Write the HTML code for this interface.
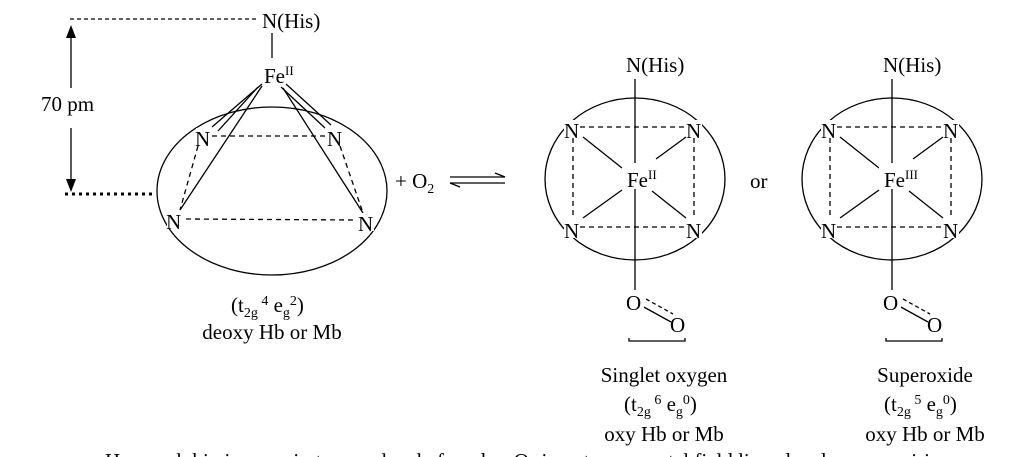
<!DOCTYPE html>
<html><head><meta charset="utf-8"><style>
html,body{margin:0;padding:0;background:#fff;}
svg{display:block;}
text{font-family:"Liberation Serif",serif;fill:#000;}
</style></head><body>
<svg width="1024" height="457" viewBox="0 0 1024 457" xmlns="http://www.w3.org/2000/svg">
<g stroke="#000" stroke-width="1.3" fill="none">
<!-- left complex -->
<line x1="70" y1="19" x2="258" y2="19" stroke-dasharray="4,3"/>
<line x1="71" y1="32" x2="71" y2="88"/>
<line x1="71" y1="128" x2="71" y2="186"/>
<line x1="65" y1="194" x2="152" y2="194" stroke-width="3" stroke-dasharray="3,4"/>
<line x1="272" y1="33" x2="272" y2="58"/>
<ellipse cx="272" cy="191" rx="115" ry="84"/>
<line x1="262" y1="84" x2="212" y2="127"/>
<line x1="258" y1="87" x2="218" y2="131"/>
<line x1="262" y1="86" x2="180" y2="210"/>
<line x1="281" y1="87" x2="325" y2="128"/>
<line x1="286" y1="84" x2="331" y2="125"/>
<line x1="283" y1="88" x2="363" y2="213"/>
<line x1="212" y1="136" x2="325" y2="136" stroke-dasharray="5,4"/>
<line x1="198" y1="146" x2="180" y2="210" stroke-dasharray="5,4"/>
<line x1="340" y1="146" x2="362" y2="210" stroke-dasharray="5,4"/>
<line x1="186" y1="219" x2="356" y2="220" stroke-dasharray="5,4"/>
<!-- eq arrows -->
<line x1="450" y1="177" x2="505" y2="177"/>
<path d="M495,173 L505,177"/>
<line x1="450" y1="183" x2="505" y2="183"/>
<path d="M450,183 L460,187"/>
<!-- complex 1 -->
<g id="c1">
<ellipse cx="635" cy="179" rx="90" ry="81"/>
<line x1="635" y1="79" x2="635" y2="290"/>
<line x1="580" y1="127" x2="686" y2="127" stroke-dasharray="5,4"/>
<line x1="580" y1="227" x2="686" y2="227" stroke-dasharray="5,4"/>
<line x1="573" y1="138" x2="573" y2="218" stroke-dasharray="5,4"/>
<line x1="694" y1="138" x2="694" y2="218" stroke-dasharray="5,4"/>
<line x1="583" y1="137" x2="622" y2="168"/>
<line x1="686" y1="137" x2="656" y2="159"/>
<line x1="583" y1="218" x2="622" y2="190"/>
<line x1="686" y1="218" x2="652" y2="191"/>
<line x1="642" y1="306" x2="671" y2="322"/>
<line x1="646" y1="299" x2="673" y2="314" stroke-dasharray="4,3"/>
<path d="M629,338 L629,341 L685,341 L685,338"/>
</g>
<use href="#c1" x="257"/>
</g>
<path d="M71,25 L66,38 L76,38 Z M71,192 L66,179 L76,179 Z" fill="#000"/>
<!-- white backs for N -->
<g fill="#fff">
<rect x="196" y="128" width="16" height="18"/><rect x="327" y="128" width="16" height="18"/>
<rect x="167" y="211" width="16" height="18"/><rect x="358" y="213" width="16" height="18"/>
<g id="wb"><rect x="564" y="120" width="16" height="18"/><rect x="686" y="120" width="16" height="18"/>
<rect x="564" y="220" width="16" height="18"/><rect x="686" y="220" width="16" height="18"/>
<rect x="622" y="163" width="42" height="26"/><rect x="626" y="291" width="18" height="22"/></g>
<use href="#wb" x="257"/>
</g>
<g font-size="21">
<text x="262" y="28">N(His)</text>
<text x="41" y="111">70 pm</text>
<text x="264" y="83">Fe<tspan font-size="13" dy="-8">II</tspan></text>
<text x="195" y="146">N</text><text x="327" y="146">N</text>
<text x="166" y="229">N</text><text x="358" y="231">N</text>
<text x="395" y="188">+ O<tspan font-size="14" dy="5">2</tspan></text>
<text x="231" y="312">(t<tspan font-size="14" dy="5">2g</tspan><tspan font-size="14" dy="-12"> 4</tspan><tspan dy="7"> e</tspan><tspan font-size="14" dy="5">g</tspan><tspan font-size="14" dy="-12">2</tspan><tspan dy="7">)</tspan></text>
<text x="272" y="339" text-anchor="middle">deoxy Hb or Mb</text>
<text x="626" y="72">N(His)</text>
<text x="564" y="138">N</text><text x="686" y="138">N</text>
<text x="564" y="238">N</text><text x="686" y="238">N</text>
<text x="627" y="187">Fe<tspan font-size="13" dy="-8">II</tspan></text>
<text x="626" y="310">O</text><text x="670" y="332">O</text>
<text x="750" y="188">or</text>
<text x="883" y="72">N(His)</text>
<text x="821" y="138">N</text><text x="943" y="138">N</text>
<text x="821" y="238">N</text><text x="943" y="238">N</text>
<text x="884" y="187">Fe<tspan font-size="13" dy="-8">III</tspan></text>
<text x="883" y="310">O</text><text x="927" y="332">O</text>
<text x="664" y="382" text-anchor="middle">Singlet oxygen</text>
<text x="624" y="411">(t<tspan font-size="14" dy="5">2g</tspan><tspan font-size="14" dy="-12"> 6</tspan><tspan dy="7"> e</tspan><tspan font-size="14" dy="5">g</tspan><tspan font-size="14" dy="-12">0</tspan><tspan dy="7">)</tspan></text>
<text x="664" y="441" text-anchor="middle">oxy Hb or Mb</text>
<text x="925" y="382" text-anchor="middle">Superoxide</text>
<text x="884" y="411">(t<tspan font-size="14" dy="5">2g</tspan><tspan font-size="14" dy="-12"> 5</tspan><tspan dy="7"> e</tspan><tspan font-size="14" dy="5">g</tspan><tspan font-size="14" dy="-12">0</tspan><tspan dy="7">)</tspan></text>
<text x="925" y="441" text-anchor="middle">oxy Hb or Mb</text>
<text x="105" y="468">Haemoglobin is a respiratory molecule found as O₂ is a strong crystal field ligand and causes pairing</text>
</g>
</svg>
</body></html>
